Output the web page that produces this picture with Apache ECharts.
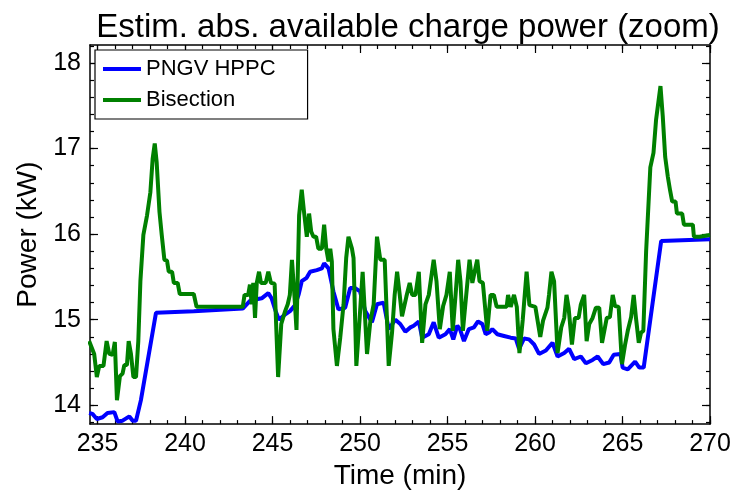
<!DOCTYPE html>
<html>
<head>
<meta charset="utf-8">
<script src="https://cdn.jsdelivr.net/npm/echarts@6/dist/echarts.min.js"></script>
<style>
  html, body { margin: 0; padding: 0; background: #fff; }
  #main { width: 743px; height: 495px; }
</style>
</head>
<body>
<div id="main"></div>
<script>
// 数据：时间 (min) 与功率 (kW)
var timeHppc = [234.52, 234.71, 234.96, 235.29, 235.57, 235.96, 236.15, 236.43, 236.82, 237.01,
	237.2, 237.48, 238.34, 240.5, 243.3, 243.71, 244.1, 244.38, 244.76, 244.95,
	245.18, 245.37, 245.71, 246.0, 246.29, 246.5, 246.67, 246.95, 247.15, 247.53,
	247.82, 247.95, 248.2, 248.48, 248.77, 249.15, 249.44, 249.72, 250.0, 250.3,
	250.68, 250.97, 251.35, 251.64, 252.02, 252.3, 252.59, 252.88, 253.07, 253.36,
	253.55, 253.93, 254.21, 254.5, 254.88, 255.13, 255.33, 255.56, 255.71, 255.94,
	256.22, 256.51, 256.74, 256.99, 257.18, 257.37, 257.56, 257.85, 258.23, 258.61,
	258.9, 259.09, 259.37, 259.66, 259.95, 260.23, 260.62, 261.0, 261.29, 261.67,
	261.95, 262.24, 262.62, 262.91, 263.29, 263.58, 263.9, 264.24, 264.5, 264.88,
	265.01, 265.3, 265.72, 265.96, 266.21, 267.21, 270.0];
var powerHppc = [13.91, 13.90, 13.84, 13.86, 13.91, 13.92, 13.81, 13.82, 13.87, 13.82,
	13.82, 14.06, 15.08, 15.10, 15.13, 15.22, 15.24, 15.25, 15.31, 15.25,
	15.10, 15.00, 15.06, 15.10, 15.17, 15.30, 15.45, 15.49, 15.56, 15.58,
	15.60, 15.66, 15.60, 15.33, 15.12, 15.14, 15.37, 15.37, 15.33, 15.10,
	14.97, 15.18, 15.20, 14.89, 15.00, 14.95, 14.86, 14.91, 14.93, 14.98,
	14.79, 14.83, 14.97, 14.79, 14.83, 14.89, 14.77, 14.93, 14.89, 14.75,
	14.89, 14.91, 14.98, 14.95, 14.83, 14.85, 14.89, 14.83, 14.81, 14.79,
	14.78, 14.66, 14.78, 14.77, 14.71, 14.60, 14.64, 14.73, 14.57, 14.61,
	14.66, 14.54, 14.57, 14.49, 14.53, 14.57, 14.48, 14.50, 14.59, 14.60,
	14.44, 14.42, 14.51, 14.44, 14.44, 15.92, 15.94];

var timeBisect = [234.52, 234.81, 234.96, 235.1, 235.34, 235.52, 235.67, 235.86, 235.99, 236.11,
	236.28, 236.43, 236.53, 236.68, 236.78, 236.91, 237.05, 237.2, 237.33, 237.45,
	237.62, 237.83, 238.02, 238.15, 238.27, 238.38, 238.54, 238.67, 238.82, 238.97,
	239.07, 239.26, 239.36, 239.58, 239.7, 240.5, 240.66, 243.3, 243.4, 243.61,
	243.71, 243.81, 243.9, 244.0, 244.1, 244.23, 244.34, 244.61, 244.76, 244.91,
	245.12, 245.32, 245.5, 245.72, 245.87, 245.99, 246.11, 246.25, 246.37, 246.52,
	246.67, 246.8, 246.96, 247.09, 247.21, 247.34, 247.49, 247.62, 247.82, 247.95,
	248.07, 248.2, 248.3, 248.39, 248.48, 248.68, 248.87, 249.06, 249.21, 249.34,
	249.54, 249.63, 249.79, 249.98, 250.15, 250.26, 250.4, 250.59, 250.78, 250.97,
	251.16, 251.41, 251.64, 251.83, 251.98, 252.12, 252.27, 252.4, 252.65, 252.84,
	252.98, 253.17, 253.36, 253.55, 253.74, 253.93, 254.21, 254.37, 254.56, 254.75,
	254.94, 255.13, 255.3, 255.46, 255.61, 255.74, 255.88, 256.07, 256.26, 256.42,
	256.55, 256.7, 256.83, 257.02, 257.27, 257.46, 257.65, 257.81, 258.38, 258.46,
	258.61, 258.8, 258.96, 259.11, 259.3, 259.52, 259.68, 260.02, 260.3, 260.46,
	260.71, 260.8, 260.94, 261.09, 261.29, 261.5, 261.67, 261.8, 261.92, 262.11,
	262.28, 262.49, 262.62, 262.81, 262.95, 263.1, 263.29, 263.48, 263.67, 263.83,
	263.96, 264.1, 264.28, 264.44, 264.57, 264.78, 264.97, 265.14, 265.3, 265.49,
	265.64, 265.77, 265.93, 266.06, 266.19, 266.35, 266.59, 266.77, 266.92, 267.17,
	267.3, 267.44, 267.59, 267.72, 267.84, 268.03, 268.11, 268.41, 268.51, 269.02,
	269.08, 269.4, 270.0];
var powerBisect = [14.75, 14.60, 14.33, 14.46, 14.46, 14.75, 14.60, 14.59, 14.74, 14.06,
	14.34, 14.37, 14.47, 14.47, 14.75, 14.60, 14.33, 14.33, 14.75, 15.45,
	15.99, 16.22, 16.49, 16.88, 17.06, 16.84, 16.26, 15.99, 15.70, 15.69,
	15.56, 15.56, 15.43, 15.43, 15.30, 15.30, 15.15, 15.15, 15.29, 15.29,
	15.41, 15.18, 15.43, 15.02, 15.43, 15.56, 15.43, 15.43, 15.56, 15.43,
	15.42, 14.33, 14.95, 15.10, 15.18, 15.29, 15.70, 15.29, 14.88, 16.22,
	16.52, 16.26, 15.97, 16.24, 16.03, 15.97, 15.97, 15.83, 15.83, 16.11,
	15.83, 15.68, 15.83, 15.68, 14.89, 14.46, 14.79, 15.18, 15.72, 15.97,
	15.83, 15.72, 14.46, 15.02, 15.56, 15.56, 14.60, 14.98, 15.18, 15.97,
	15.70, 15.70, 14.46, 14.85, 15.29, 15.56, 15.29, 15.04, 15.27, 15.43,
	15.29, 15.29, 15.56, 14.73, 15.18, 15.29, 15.70, 15.45, 14.89, 15.16,
	15.29, 15.56, 14.87, 15.29, 15.70, 15.45, 14.87, 15.29, 15.70, 15.43,
	15.56, 15.70, 15.45, 15.43, 14.87, 15.29, 15.29, 15.15, 15.15, 15.29,
	15.15, 15.29, 15.15, 14.61, 15.00, 15.56, 15.17, 15.15, 14.80, 14.99,
	15.14, 15.29, 15.56, 15.45, 14.61, 14.91, 15.02, 15.29, 15.14, 14.71,
	15.02, 15.02, 15.18, 15.29, 14.75, 14.95, 15.02, 15.14, 15.14, 14.73,
	14.87, 15.02, 15.03, 15.29, 15.16, 15.15, 14.48, 14.70, 14.87, 15.03,
	15.29, 15.02, 14.73, 14.85, 14.87, 15.80, 16.78, 16.95, 17.34, 17.73,
	17.38, 16.90, 16.67, 16.51, 16.38, 16.38, 16.24, 16.24, 16.11, 16.11,
	15.97, 15.97, 15.99];

var xMajor = [235, 240, 245, 250, 255, 260, 265, 270];
var yMajor = [14, 15, 16, 17, 18];

// 次刻度
var xMinor = [];
for (var i = 235; i <= 270; i++) xMinor.push(i);
var yMinor = [];
for (var j = 0; j <= 22; j++) yMinor.push(Math.round((13.8 + j * 0.2) * 10) / 10);

var xMin = 234.57, xMax = 270;
var yMin = 13.78, yMax = 18.21;

function pairs(ts, vs) {
	return ts.map(function(t, k) { return [t, vs[k]]; });
}

var fontFam = '"Liberation Sans", Arial, sans-serif';
var black = '#000';

function xAx(pos, ticks, len, label, line) {
	var ax = {
		type: 'value', position: pos, min: xMin, max: xMax,
		splitLine: { show: false },
		axisLine: { show: line, lineStyle: { color: black, width: 1.5 } },
		axisTick: { show: true, inside: true, length: len, customValues: ticks,
			lineStyle: { color: black, width: 1.2 } },
		axisLabel: { show: label, customValues: xMajor, fontSize: 25, color: black,
			fontFamily: fontFam, margin: 8 }
	};
	if (label) {
		ax.name = 'Time (min)';
		ax.nameLocation = 'middle';
		ax.nameGap = 37;
		ax.nameTextStyle = { fontSize: 28, color: black, fontFamily: fontFam };
	}
	return ax;
}
function yAx(pos, ticks, len, label, line) {
	var ax = {
		type: 'value', position: pos, min: yMin, max: yMax,
		splitLine: { show: false },
		axisLine: { show: line, lineStyle: { color: black, width: 1.5 } },
		axisTick: { show: true, inside: true, length: len, customValues: ticks,
			lineStyle: { color: black, width: 1.2 } },
		axisLabel: { show: label, customValues: yMajor, fontSize: 25, color: black,
			fontFamily: fontFam, margin: 9 }
	};
	if (label) {
		ax.name = 'Power (kW)';
		ax.nameLocation = 'middle';
		ax.nameGap = 46;
		ax.nameTextStyle = { fontSize: 28, color: black, fontFamily: fontFam };
	}
	return ax;
}

var myChart = echarts.init(document.getElementById('main'));
var option = {
	animation: false,
	backgroundColor: '#fff',
	title: {
		text: 'Estim. abs. available charge power (zoom)',
		left: 403, top: 6, textAlign: 'center',
		textStyle: { fontSize: 33, fontWeight: 'normal', color: black, fontFamily: fontFam }
	},
	legend: {
		orient: 'vertical', left: 95, top: 50,
		backgroundColor: '#fff',
		borderColor: black, borderWidth: 1.2, borderRadius: 0,
		padding: [8, 32, 8, 8],
		itemGap: 9,
		itemWidth: 38, itemHeight: 4,
		icon: 'rect',
		textStyle: { fontSize: 22, color: black, fontFamily: fontFam },
		data: ['PNGV HPPC', 'Bisection']
	},
	grid: { left: 90, right: 33, top: 45, bottom: 68, containLabel: false },
	xAxis: [
		xAx('bottom', xMajor, 8, true, true),
		xAx('bottom', xMinor, 4, false, false),
		xAx('top', xMajor, 8, false, true),
		xAx('top', xMinor, 4, false, false)
	],
	yAxis: [
		yAx('left', yMajor, 8, true, true),
		yAx('left', yMinor, 4, false, false),
		yAx('right', yMajor, 8, false, true),
		yAx('right', yMinor, 4, false, false)
	],
	series: [{
		name: 'PNGV HPPC', type: 'line', showSymbol: false,
		data: pairs(timeHppc, powerHppc),
		lineStyle: { color: '#0000ff', width: 4 },
		itemStyle: { color: '#0000ff' }
	}, {
		name: 'Bisection', type: 'line', showSymbol: false,
		data: pairs(timeBisect, powerBisect),
		lineStyle: { color: '#008000', width: 4 },
		itemStyle: { color: '#008000' }
	}]
};
myChart.setOption(option);
</script>
</body>
</html>
